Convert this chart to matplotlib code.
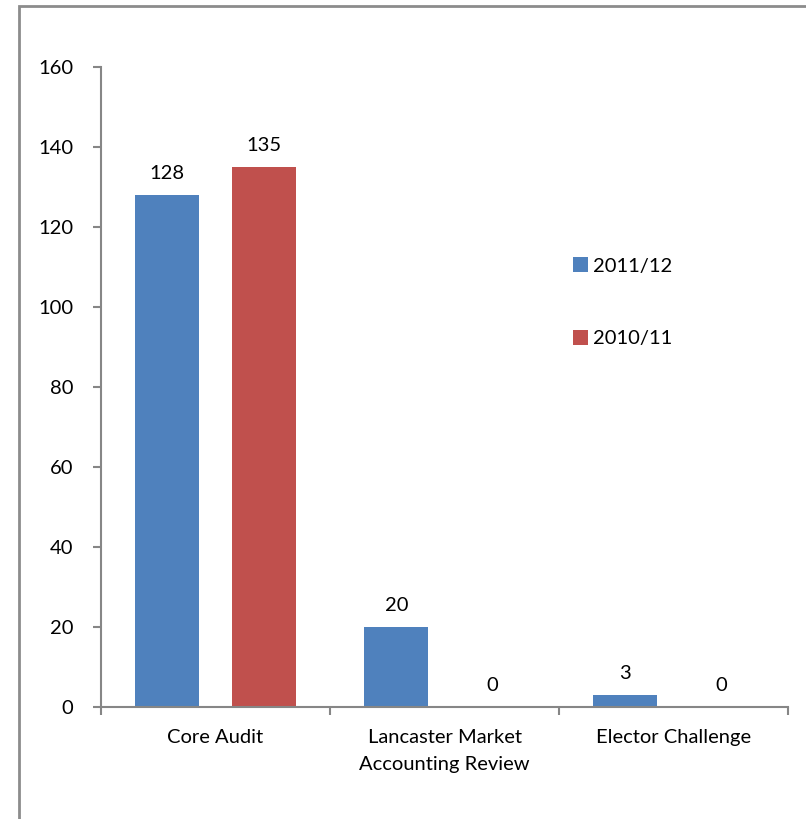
import matplotlib
matplotlib.use("Agg")
import matplotlib.pyplot as plt
from matplotlib.patches import Rectangle, Patch
import numpy as np

categories = ["Core Audit", "Lancaster Market\nAccounting Review", "Elector Challenge"]
series_names = ["2011/12", "2010/11"]
values_2011 = [128, 20, 3]
values_2010 = [135, 0, 0]
colors = ["#4F81BD", "#C0504D"]

plt.rcParams['font.family'] = ['Lato', 'DejaVu Sans']
FS = 14.5
W, H = 806, 819
fig = plt.figure(figsize=(W / 100, H / 100), dpi=100)

# outer border
fig.patches.append(Rectangle((19 / W, -0.05), 1.1, 1 - 6 / H + 0.05, transform=fig.transFigure,
                             fill=False, edgecolor="#8C8C8C", linewidth=2))

ax = fig.add_axes([101 / W, 1 - 707 / H, (788 - 101) / W, (707 - 67) / H])
x = np.arange(len(categories))
bw = 0.28
off = 0.21
for vals, c, name, sgn in [(values_2011, colors[0], series_names[0], -1),
                           (values_2010, colors[1], series_names[1], 1)]:
    bars = ax.bar(x + sgn * off, vals, width=bw, color=c, label=name)
    for b, v in zip(bars, vals):
        ax.text(b.get_x() + b.get_width() / 2, v + 3.3, str(v), ha="center", va="bottom",
                fontsize=FS, color="black")

ax.set_xlim(-0.5, len(categories) - 0.5)
ax.set_ylim(0, 160)
ax.set_yticks(range(0, 161, 20))
ax.set_xticks(x)
ax.set_xticklabels(categories, fontsize=FS, linespacing=1.7)
ax.set_xticks(np.arange(-0.5, len(categories), 1), minor=True)
ax.tick_params(axis="x", which="major", length=0, pad=16)
ax.tick_params(axis="x", which="minor", length=6, color="#868686", width=1.5)
ax.tick_params(axis="y", length=6, color="#868686", width=1.5, labelsize=FS, pad=14)
for s in ["top", "right"]:
    ax.spines[s].set_visible(False)
for s in ["left", "bottom"]:
    ax.spines[s].set_color("#868686")
    ax.spines[s].set_linewidth(1.5)

handles = [Patch(facecolor=colors[0]), Patch(facecolor=colors[1])]
leg = fig.legend(handles, series_names, loc="upper left", bbox_to_anchor=(555 / W, 1 - 239 / H),
                 frameon=False, fontsize=FS, handlelength=0.75, handleheight=0.75,
                 handletextpad=0.25, labelspacing=2.75)

fig.savefig("out.png", dpi=100)
